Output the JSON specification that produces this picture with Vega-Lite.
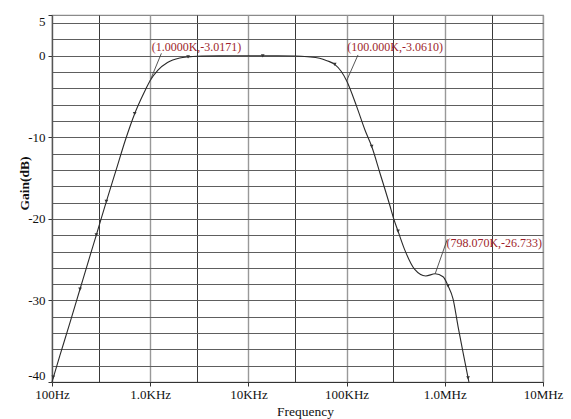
{
  "$schema": "https://vega.github.io/schema/vega-lite/v6.json",
  "width": 491,
  "height": 367,
  "autosize": {"type": "none"},
  "padding": {"left": 52, "top": 15, "right": 28, "bottom": 37},
  "background": "white",
  "config": {
    "font": "Liberation Serif",
    "view": {"stroke": "#8a8a8a", "strokeWidth": 1.2},
    "axis": {"labelFont": "Liberation Serif", "titleFont": "Liberation Serif", "labelColor": "#111", "titleColor": "#111"}
  },
  "datasets": {
    "curve": [
      {"freq": 100, "gain": -40.0},
      {"freq": 120, "gain": -36.8},
      {"freq": 150, "gain": -33.0},
      {"freq": 193, "gain": -28.6},
      {"freq": 240, "gain": -24.8},
      {"freq": 283, "gain": -21.95},
      {"freq": 358, "gain": -17.85},
      {"freq": 450, "gain": -14.0},
      {"freq": 560, "gain": -10.3},
      {"freq": 695, "gain": -7.1},
      {"freq": 800, "gain": -5.4},
      {"freq": 900, "gain": -4.1},
      {"freq": 1000, "gain": -3.02},
      {"freq": 1200, "gain": -1.75},
      {"freq": 1500, "gain": -0.82},
      {"freq": 2000, "gain": -0.27},
      {"freq": 2430, "gain": -0.13},
      {"freq": 3000, "gain": -0.05},
      {"freq": 5000, "gain": -0.01},
      {"freq": 10000, "gain": 0},
      {"freq": 14000, "gain": 0},
      {"freq": 20000, "gain": 0},
      {"freq": 30000, "gain": -0.03},
      {"freq": 40000, "gain": -0.12},
      {"freq": 53000, "gain": -0.3},
      {"freq": 63000, "gain": -0.6},
      {"freq": 75700, "gain": -1.05},
      {"freq": 88000, "gain": -1.9},
      {"freq": 100000, "gain": -3.06},
      {"freq": 126500, "gain": -6.2},
      {"freq": 153800, "gain": -9.1},
      {"freq": 180000, "gain": -11.1},
      {"freq": 218800, "gain": -14.4},
      {"freq": 274800, "gain": -18.3},
      {"freq": 302000, "gain": -20.0},
      {"freq": 334000, "gain": -21.5},
      {"freq": 391000, "gain": -23.8},
      {"freq": 494000, "gain": -26.2},
      {"freq": 640000, "gain": -27.0},
      {"freq": 798070, "gain": -26.73},
      {"freq": 960000, "gain": -27.1},
      {"freq": 1079000, "gain": -28.2},
      {"freq": 1213000, "gain": -29.8},
      {"freq": 1365000, "gain": -33.2},
      {"freq": 1535000, "gain": -36.4},
      {"freq": 1726000, "gain": -39.5},
      {"freq": 1760000, "gain": -40.0}
    ],
    "markers": [
      {"freq": 103, "gain": -39.4},
      {"freq": 193, "gain": -28.6},
      {"freq": 283, "gain": -21.95},
      {"freq": 358, "gain": -17.85},
      {"freq": 695, "gain": -7.1},
      {"freq": 2430, "gain": -0.13},
      {"freq": 14000, "gain": 0},
      {"freq": 75700, "gain": -1.05},
      {"freq": 180000, "gain": -11.1},
      {"freq": 334000, "gain": -21.5},
      {"freq": 1079000, "gain": -28.2},
      {"freq": 1726000, "gain": -39.5}
    ],
    "notes": [
      {"freq": 1036, "gain": 1.1, "label": "(1.0000K,-3.0171)"},
      {"freq": 101800, "gain": 1.1, "label": "(100.000K,-3.0610)"},
      {"freq": 1038000, "gain": -22.9, "label": "(798.070K,-26.733)"}
    ],
    "leaders": [
      {"freq": 1000, "gain": -3.02, "freq2": 1300, "gain2": 0.3},
      {"freq": 100000, "gain": -3.06, "freq2": 130600, "gain2": 0.1},
      {"freq": 798070, "gain": -26.73, "freq2": 1060000, "gain2": -22.5}
    ]
  },
  "layer": [
    {
      "data": {"name": "curve"},
      "mark": {"type": "line", "color": "#2a2a2a", "strokeWidth": 1.1, "interpolate": "monotone"},
      "encoding": {
        "x": {
          "field": "freq", "type": "quantitative",
          "scale": {"type": "log", "domain": [100, 10000000], "nice": false},
          "axis": {"orient": "bottom", "values": [300, 3000, 30000, 300000, 3000000], "grid": true, "gridColor": "#222", "gridWidth": 0.9, "labels": false, "ticks": false, "domain": false, "title": null}
        },
        "y": {
          "field": "gain", "type": "quantitative",
          "scale": {"domain": [-40, 5], "nice": false, "zero": false},
          "axis": {"orient": "left", "values": [-38, -36, -34, -32, -30, -28, -26, -24, -22, -20, -18, -16, -14, -12, -10, -8, -6, -4, -2, 0, 2, 4], "grid": true, "gridColor": "#5e5e5e", "gridWidth": 1.1, "labels": false, "ticks": false, "domain": false, "title": null}
        }
      }
    },
    {
      "data": {"name": "markers"},
      "mark": {"type": "point", "shape": "triangle-down", "filled": true, "color": "#333", "size": 14, "opacity": 1},
      "encoding": {
        "x": {
          "field": "freq", "type": "quantitative",
          "scale": {"type": "log", "domain": [100, 10000000], "nice": false},
          "axis": {
            "orient": "bottom", "values": [100, 1000, 10000, 100000, 1000000, 10000000],
            "grid": true, "gridColor": "#999", "gridWidth": 1.4,
            "labelExpr": "datum.value < 200 ? '100Hz' : datum.value < 2000 ? '1.0KHz' : datum.value < 20000 ? '10KHz' : datum.value < 200000 ? '100KHz' : datum.value < 2000000 ? '1.0MHz' : '10MHz'",
            "labelFontSize": 13, "labelPadding": 2, "tickSize": 4, "tickColor": "#333",
            "domainColor": "#333", "domainWidth": 1.2, "labelFlush": false, "labelOverlap": false,
            "title": "Frequency", "titleFontSize": 13.5, "titleFontWeight": "normal", "titleX": 253, "titleY": 33, "titleBaseline": "alphabetic"
          }
        },
        "y": {
          "field": "gain", "type": "quantitative",
          "scale": {"domain": [-40, 5], "nice": false, "zero": false},
          "axis": {
            "orient": "left", "values": [5, 0, -10, -20, -30, -40],
            "grid": false,
            "labelExpr": "toString(datum.value)",
            "labelFontSize": 13, "labelPadding": 3, "tickSize": 4, "tickColor": "#333",
            "domainColor": "#555", "domainWidth": 1.2, "labelFlush": true,
            "title": "Gain(dB)", "titleFontSize": 13.5, "titleFontWeight": "bold", "titleX": -28, "titleY": 168, "titleAngle": -90, "titleBaseline": "middle"
          }
        }
      }
    },
    {
      "data": {"name": "leaders"},
      "mark": {"type": "rule", "color": "#444", "strokeWidth": 0.9},
      "encoding": {
        "x": {"field": "freq", "type": "quantitative", "scale": {"type": "log", "domain": [100, 10000000], "nice": false}, "axis": null},
        "y": {"field": "gain", "type": "quantitative", "scale": {"domain": [-40, 5], "nice": false, "zero": false}, "axis": null},
        "x2": {"field": "freq2"},
        "y2": {"field": "gain2"}
      }
    },
    {
      "data": {"name": "notes"},
      "mark": {"type": "text", "align": "left", "baseline": "middle", "font": "Liberation Serif", "fontSize": 12, "color": "#9e1f2c"},
      "encoding": {
        "x": {"field": "freq", "type": "quantitative", "scale": {"type": "log", "domain": [100, 10000000], "nice": false}, "axis": null},
        "y": {"field": "gain", "type": "quantitative", "scale": {"domain": [-40, 5], "nice": false, "zero": false}, "axis": null},
        "text": {"field": "label"}
      }
    }
  ],
  "resolve": {"axis": {"x": "independent", "y": "independent"}}
}
